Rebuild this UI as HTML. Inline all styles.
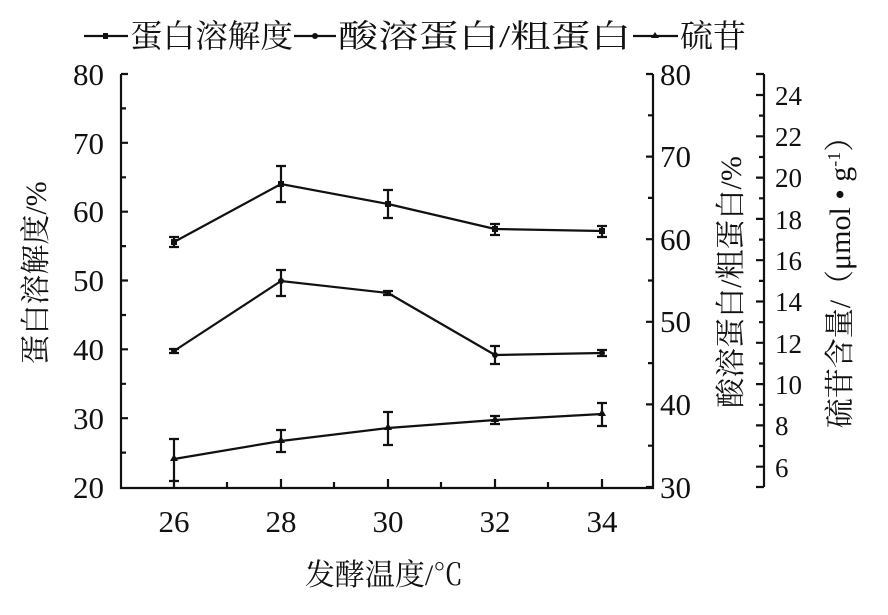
<!DOCTYPE html>
<html><head><meta charset="utf-8"><style>
body{margin:0;background:#fff}
svg text{font-family:"Liberation Serif","Noto Serif CJK SC",serif;fill:#111}
</style></head><body>
<svg width="888" height="610" viewBox="0 0 888 610" xmlns="http://www.w3.org/2000/svg">
<g stroke="#111" stroke-width="2.2" fill="none">
<polyline points="121,74 121,488 653,488 653,74"/>
<path d="M121,74h7M121,142.8h7M121,211.7h7M121,280.5h7M121,349.3h7M121,418.2h7"/>
<path d="M121,108.4h5M121,177.3h5M121,246.1h5M121,315h5M121,383.8h5M121,452.6h5"/>
<path d="M653,74h-7M653,156.6h-7M653,239.2h-7M653,321.8h-7M653,404.4h-7M653,487h-7"/>
<path d="M653,115.3h-5M653,197.9h-5M653,280.5h-5M653,363.1h-5M653,445.7h-5"/>
<path d="M174,488v-9M281,488v-9M388,488v-9M495,488v-9M602,488v-9"/>
<path d="M227,488v-6M334,488v-6M441,488v-6M548,488v-6"/>
<path d="M764,74v413"/>
<path d="M756,74h8M756,487h8"/>
<path d="M764,95h-8M764,136.3h-8M764,177.6h-8M764,218.9h-8M764,260.2h-8M764,301.5h-8M764,342.8h-8M764,384.1h-8M764,425.4h-8M764,466.7h-8"/>
<path d="M764,115.6h-5M764,157h-5M764,198.3h-5M764,239.6h-5M764,280.9h-5M764,322.2h-5M764,363.5h-5M764,404.8h-5M764,446h-5"/>
<polyline points="174,242 281,184 388,204 495,229 602,231"/>
<polyline points="174,351 281,281 388,293 495,355 602,353"/>
<polyline points="174,459 281,441 388,428 495,420 602,414"/>
<path d="M174,237v10M169,237h10M169,247h10"/>
<path d="M281,166v36M276,166h10M276,202h10"/>
<path d="M388,190v28M383,190h10M383,218h10"/>
<path d="M495,224v11M490,224h10M490,235h10"/>
<path d="M602,226v11M597,226h10M597,237h10"/>
<path d="M174,349v4M169,349h10M169,353h10"/>
<path d="M281,270v26M276,270h10M276,296h10"/>
<path d="M388,291v4M383,291h10M383,295h10"/>
<path d="M495,346v18M490,346h10M490,364h10"/>
<path d="M602,350v6M597,350h10M597,356h10"/>
<path d="M174,439v42M169,439h10M169,481h10"/>
<path d="M281,430v22M276,430h10M276,452h10"/>
<path d="M388,412v33M383,412h10M383,445h10"/>
<path d="M495,416v8M490,416h10M490,424h10"/>
<path d="M602,403v23M597,403h10M597,426h10"/>
<path d="M84,36h44M294,36h42M633,36h45"/>
</g>
<g fill="#111">
<rect x="171" y="239" width="6" height="6"/><rect x="278" y="181" width="6" height="6"/><rect x="385" y="201" width="6" height="6"/><rect x="492" y="226" width="6" height="6"/><rect x="599" y="228" width="6" height="6"/>
<circle cx="174" cy="351" r="3"/><circle cx="281" cy="281" r="3"/><circle cx="388" cy="293" r="3"/><circle cx="495" cy="355" r="3"/><circle cx="602" cy="353" r="3"/>
<path d="M174,454l4,7h-8z M281,436l4,7h-8z M388,423l4,7h-8z M495,415l4,7h-8z M602,409l4,7h-8z"/>
<rect x="103" y="33" width="5" height="6"/><circle cx="315" cy="36" r="3"/><path d="M655,32l4,6h-8z"/>
</g>
<g font-size="32">
<text x="130" y="47" textLength="163" lengthAdjust="spacingAndGlyphs">蛋白溶解度</text>
<text x="338" y="47" textLength="293" lengthAdjust="spacingAndGlyphs">酸溶蛋白/粗蛋白</text>
<text x="680" y="47" textLength="66" lengthAdjust="spacingAndGlyphs">硫苷</text>
</g>
<g font-size="31" text-anchor="end">
<text x="104" y="85">80</text><text x="104" y="154">70</text><text x="104" y="222">60</text><text x="104" y="291">50</text><text x="104" y="360">40</text><text x="104" y="429">30</text><text x="104" y="498">20</text>
</g>
<g font-size="31">
<text x="660" y="85">80</text><text x="660" y="167">70</text><text x="660" y="250">60</text><text x="660" y="332">50</text><text x="660" y="415">40</text><text x="660" y="498">30</text>
</g>
<g font-size="27">
<text x="775" y="105">24</text><text x="775" y="146">22</text><text x="775" y="187">20</text><text x="775" y="229">18</text><text x="775" y="270">16</text><text x="775" y="311">14</text><text x="775" y="353">12</text><text x="775" y="394">10</text><text x="775" y="435">8</text><text x="775" y="477">6</text>
</g>
<g font-size="31" text-anchor="middle">
<text x="174" y="532">26</text><text x="281" y="532">28</text><text x="388" y="532">30</text><text x="495" y="532">32</text><text x="602" y="532">34</text>
<text x="384" y="585" font-size="30">发酵温度/℃</text>
</g>
<text font-size="30" text-anchor="middle" transform="translate(46,273) rotate(-90)">蛋白溶解度/%</text>
<text font-size="30" text-anchor="middle" transform="translate(741,282) rotate(-90)">酸溶蛋白/粗蛋白/%</text>
<text font-size="30" text-anchor="middle" transform="translate(850,275) rotate(-90)">硫苷含量/（μmol • g<tspan font-size="18" dy="-10">-1</tspan><tspan dy="10">）</tspan></text>
</svg>
</body></html>
